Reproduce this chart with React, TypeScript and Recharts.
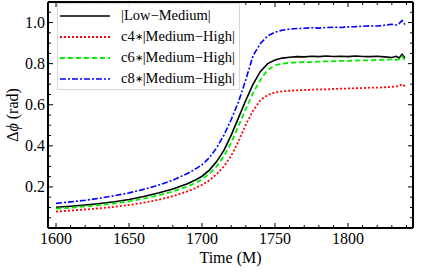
import React from 'react'
import { LineChart, Line, XAxis, YAxis } from 'recharts'

const times = [
  1600, 1610, 1620, 1630, 1640, 1650, 1660, 1670, 1680, 1690, 1695, 1700, 1705, 1710,
  1715, 1720, 1725, 1730, 1735, 1740, 1745, 1750, 1755, 1760, 1765, 1770, 1775, 1780,
  1785, 1790, 1795, 1800, 1805, 1810, 1815, 1820, 1825, 1830, 1833, 1835, 1837, 1839,
]
const lowMedium = [
  0.101, 0.106, 0.112, 0.119, 0.128, 0.139, 0.153, 0.17, 0.19, 0.215, 0.232, 0.252, 0.282, 0.323,
  0.378, 0.452, 0.537, 0.622, 0.7, 0.762, 0.8, 0.818, 0.827, 0.831, 0.834, 0.833, 0.836, 0.834,
  0.837, 0.835, 0.836, 0.834, 0.837, 0.835, 0.834, 0.836, 0.833, 0.83, 0.836, 0.828, 0.846, 0.828,
]
const c4High = [
  0.08, 0.085, 0.09, 0.096, 0.103, 0.112, 0.123, 0.137, 0.155, 0.178, 0.193, 0.21, 0.232, 0.262,
  0.3, 0.352, 0.422, 0.503, 0.572, 0.622, 0.648, 0.66, 0.665, 0.668, 0.67, 0.672, 0.673, 0.675,
  0.674, 0.677, 0.678, 0.679, 0.68, 0.681, 0.683, 0.683, 0.685, 0.687, 0.689, 0.692, 0.7, 0.69,
]
const c6High = [
  0.094, 0.099, 0.105, 0.112, 0.12, 0.13, 0.143, 0.159, 0.178, 0.202, 0.218, 0.237, 0.264, 0.3,
  0.35, 0.415, 0.497, 0.58, 0.658, 0.722, 0.77, 0.792, 0.8, 0.804, 0.806, 0.808, 0.807, 0.81,
  0.811, 0.812, 0.813, 0.813, 0.815, 0.816, 0.816, 0.818, 0.819, 0.821, 0.818, 0.822, 0.836, 0.816,
]
const c8High = [
  0.12, 0.127, 0.135, 0.145, 0.157, 0.171, 0.188, 0.208, 0.233, 0.265, 0.285, 0.308, 0.342, 0.39,
  0.452, 0.528, 0.615, 0.722, 0.84, 0.898, 0.935, 0.953, 0.963, 0.968, 0.971, 0.972, 0.975, 0.973,
  0.976, 0.977, 0.976, 0.979, 0.98, 0.982, 0.984, 0.983, 0.987, 0.992, 0.988, 0.995, 1.01, 0.99,
]

const xTicks = [
  1600, 1610, 1620, 1630, 1640, 1650, 1660, 1670, 1680, 1690, 1700, 1710, 1720,
  1730, 1740, 1750, 1760, 1770, 1780, 1790, 1800, 1810, 1820, 1830, 1840,
]
const xMajor = [1600, 1650, 1700, 1750, 1800]
const yTicks = [
  0.05, 0.1, 0.15, 0.2, 0.25, 0.3, 0.35, 0.4, 0.45, 0.5, 0.55, 0.6, 0.65, 0.7, 0.75,
  0.8, 0.85, 0.9, 0.95, 1.0, 1.05,
]
const yMajor = [0.2, 0.4, 0.6, 0.8, 1.0]

const series = [
  { key: 'low', prefix: '', name: '|Low\u2212Medium|', color: '#000000', dash: undefined, width: 1.6 },
  { key: 'c4', prefix: 'c4', name: '|Medium\u2212High|', color: '#ff0000', dash: '2 2', width: 1.8 },
  { key: 'c6', prefix: 'c6', name: '|Medium\u2212High|', color: '#00ee00', dash: '5 3', width: 1.8 },
  { key: 'c8', prefix: 'c8', name: '|Medium\u2212High|', color: '#0000ff', dash: '6 2 2 2', width: 1.6 },
]

const data = times.map((t, i) => ({
  t,
  low: lowMedium[i],
  c4: c4High[i],
  c6: c6High[i],
  c8: c8High[i],
}))

const FONT = '"Liberation Serif", "Times New Roman", serif'

const isMajorX = (v: number) => xMajor.includes(v)
const isMajorY = (v: number) => yMajor.some((m) => Math.abs(m - v) < 1e-6)

function LeftTick({ x, y, payload }: any) {
  const major = isMajorY(payload.value)
  return (
    <g>
      <line x1={x} x2={x + (major ? 5 : 3)} y1={y} y2={y} stroke="#000" strokeWidth={1} />
      {major && (
        <text x={x - 3} y={y} dy={5} textAnchor="end" fontFamily={FONT} fontSize={16} fill="#000">
          {payload.value.toFixed(1)}
        </text>
      )}
    </g>
  )
}

function RightTick({ x, y, payload }: any) {
  const major = isMajorY(payload.value)
  return <line x1={x} x2={x - (major ? 5 : 3)} y1={y} y2={y} stroke="#000" strokeWidth={1} />
}

function BottomTick({ x, y, payload }: any) {
  const major = isMajorX(payload.value)
  return (
    <g>
      <line x1={x} x2={x} y1={y} y2={y - (major ? 5 : 3)} stroke="#000" strokeWidth={1} />
      {major && (
        <text x={x} y={y + 16} textAnchor="middle" fontFamily={FONT} fontSize={16} fill="#000">
          {payload.value}
        </text>
      )}
    </g>
  )
}

function TopTick({ x, y, payload }: any) {
  const major = isMajorX(payload.value)
  return <line x1={x} x2={x} y1={y} y2={y + (major ? 5 : 3)} stroke="#000" strokeWidth={1} />
}

function YLabel({ viewBox }: any) {
  const cx = viewBox.x + 12
  const cy = viewBox.y + viewBox.height / 2
  return (
    <text
      x={cx}
      y={cy}
      transform={`rotate(-90, ${cx}, ${cy})`}
      textAnchor="middle"
      dominantBaseline="central"
      fontFamily={FONT}
      fontSize={16}
      fill="#000"
    >
      {'\u0394'}
      <tspan fontStyle="italic">{'\u03d5'}</tspan>
      {' (rad)'}
    </text>
  )
}

function XLabel({ viewBox }: any) {
  return (
    <text
      x={viewBox.x + viewBox.width / 2}
      y={viewBox.y + 35}
      textAnchor="middle"
      fontFamily={FONT}
      fontSize={16}
      fill="#000"
    >
      Time (M)
    </text>
  )
}

function LegendBox() {
  return (
    <div
      style={{
        position: 'absolute',
        left: 57,
        top: 3,
        width: 183,
        height: 87,
        background: 'rgba(255,255,255,0.9)',
        border: '1px solid #d8d8d8',
        boxSizing: 'border-box',
        paddingTop: 1,
        fontFamily: FONT,
        fontSize: 14.5,
        color: '#000',
      }}
    >
      {series.map((s) => (
        <div key={s.key} style={{ display: 'flex', alignItems: 'center', height: 21 }}>
          <svg width={54} height={6} style={{ marginLeft: 2 }}>
            <line
              x1={0}
              x2={50}
              y1={3}
              y2={3}
              stroke={s.color}
              strokeWidth={s.width}
              strokeDasharray={s.dash}
            />
          </svg>
          <span style={{ marginLeft: 7, whiteSpace: 'nowrap' }}>
            {s.prefix}
            {s.prefix && <span style={{ fontSize: 10, position: 'relative', top: -1 }}>{'\u2217'}</span>}
            {s.name}
          </span>
        </div>
      ))}
    </div>
  )
}

export default function App() {
  return (
    <div style={{ position: 'absolute', left: 0, top: 0, width: 436, height: 272, background: '#fff' }}>
      <LineChart width={436} height={272} data={data} margin={{ top: 1, right: 22, bottom: 0, left: 0 }}>
        <XAxis
          dataKey="t"
          type="number"
          domain={[1594.5, 1844.5]}
          allowDataOverflow
          ticks={xTicks}
          interval={0}
          height={44}
          tickSize={0}
          tickMargin={0}
          tickLine={false}
          axisLine={{ stroke: '#000', strokeWidth: 2 }}
          tick={<BottomTick />}
          label={<XLabel />}
        />
        <XAxis
          xAxisId="top"
          orientation="top"
          dataKey="t"
          type="number"
          domain={[1594.5, 1844.5]}
          allowDataOverflow
          ticks={xTicks}
          interval={0}
          height={1}
          tickSize={0}
          tickMargin={0}
          tickLine={false}
          axisLine={{ stroke: '#000', strokeWidth: 2 }}
          tick={<TopTick />}
        />
        <YAxis
          type="number"
          domain={[0, 1.1]}
          allowDataOverflow
          ticks={yTicks}
          interval={0}
          width={48}
          tickSize={0}
          tickMargin={0}
          tickLine={false}
          axisLine={{ stroke: '#000', strokeWidth: 2 }}
          tick={<LeftTick />}
          label={<YLabel />}
        />
        <YAxis
          yAxisId="right"
          orientation="right"
          type="number"
          domain={[0, 1.1]}
          allowDataOverflow
          ticks={yTicks}
          interval={0}
          width={1}
          tickSize={0}
          tickMargin={0}
          tickLine={false}
          axisLine={{ stroke: '#000', strokeWidth: 2 }}
          tick={<RightTick />}
        />
        {series.map((s) => (
          <Line
            key={s.key}
            dataKey={s.key}
            name={s.prefix + s.name}
            type="linear"
            stroke={s.color}
            strokeWidth={s.width}
            strokeDasharray={s.dash}
            dot={false}
            activeDot={false}
            isAnimationActive={false}
          />
        ))}
      </LineChart>
      <LegendBox />
    </div>
  )
}
